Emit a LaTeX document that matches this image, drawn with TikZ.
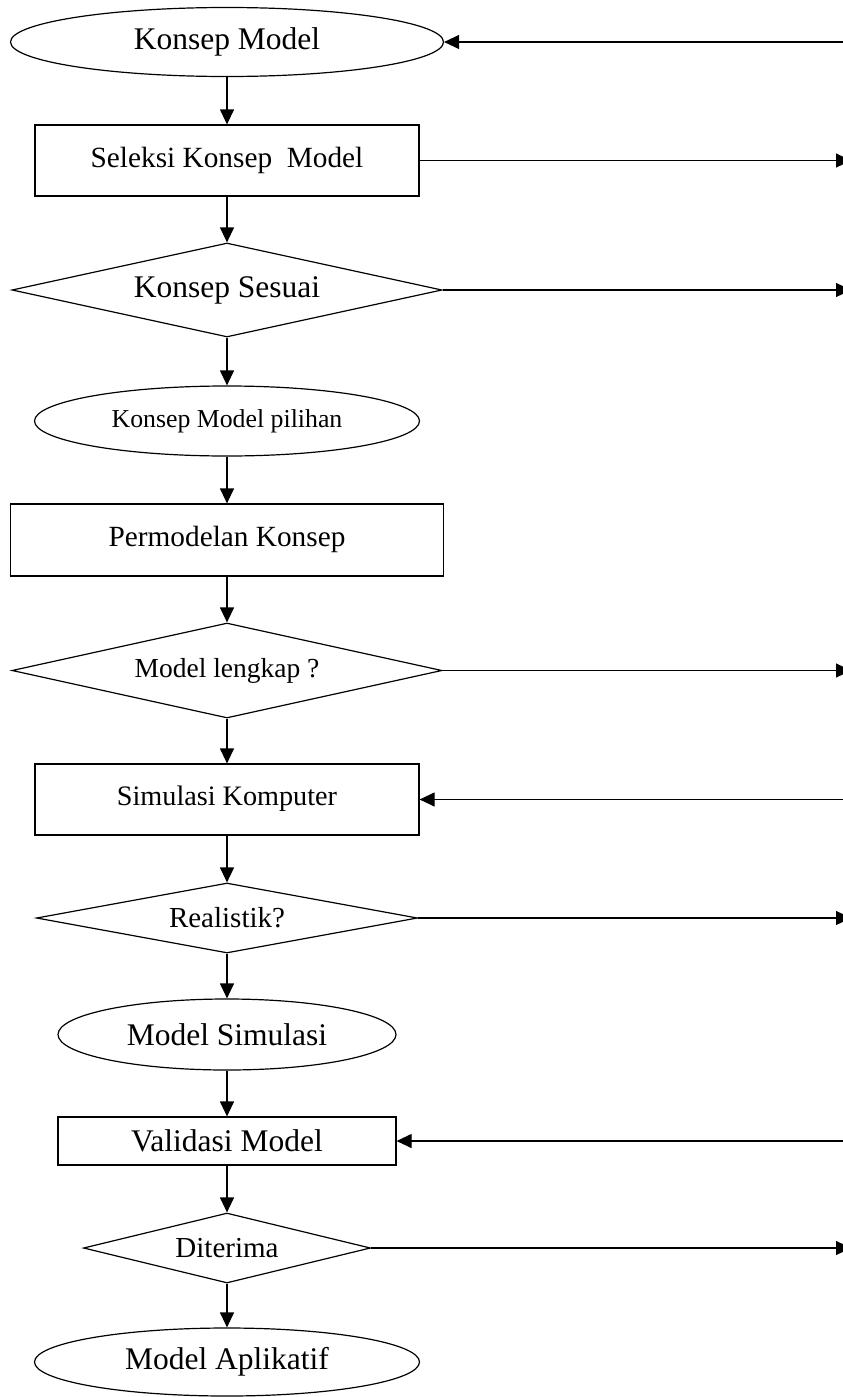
\documentclass[tikz,border=0pt]{standalone}
\usepackage{fontspec}
\setmainfont{Liberation Serif}
\usetikzlibrary{shapes.geometric,arrows.meta}

\tikzset{
  proses/.style={draw,rectangle,inner sep=0pt},
  keputusan/.style={draw,diamond,inner sep=0pt},
  terminal/.style={draw,ellipse,inner sep=0pt},
  besar/.style={font=\fontsize{31.5}{36}\selectfont},
  sedang/.style={font=\fontsize{29.3}{34}\selectfont},
}

\begin{document}
\begin{tikzpicture}[x=1pt,y=-1pt,>={Triangle[length=15pt,width=14pt]},line width=1.2pt]
        \clip (0,0) rectangle (843,1397); % batas gambar
        \coordinate (tepi) at (851,0); % tepi kanan

        \node[terminal,besar,minimum width=433,minimum height=69] (k1) at (227,42) {Konsep Model};
        \node[proses,sedang,minimum width=384,minimum height=71] (s1) at (227,160.5) {\raisebox{7pt}{Seleksi Konsep\ \ Model}};
        \node[keputusan,besar,aspect=4.6,minimum width=430,minimum height=94] (d1) at (227,290) {Konsep Sesuai};
        \node[terminal,font=\fontsize{25.8}{30}\selectfont,minimum width=385,minimum height=70] (k2) at (227,421) {Konsep Model pilihan};
        \node[proses,sedang,minimum width=433,minimum height=72] (p1) at (227,540) {\raisebox{7pt}{Permodelan Konsep}};
        \node[keputusan,font=\fontsize{27.5}{32}\selectfont,aspect=4.5,minimum width=430,minimum height=95] (d2) at (227,670.5) {Model lengkap ?};
        \node[proses,font=\fontsize{28.2}{32}\selectfont,minimum width=384,minimum height=71] (p2) at (227,799.5) {\raisebox{7pt}{Simulasi Komputer}};
        \node[keputusan,font=\fontsize{29}{34}\selectfont,aspect=5.4,minimum width=381,minimum height=70] (d3) at (227,918) {\raisebox{-4pt}{Realistik?}};
        \node[terminal,besar,minimum width=338,minimum height=71] (k3) at (227,1034.5) {Model Simulasi};
        \node[proses,besar,minimum width=338,minimum height=48] (v1) at (227,1141) {\raisebox{-6pt}{Validasi Model}};
        \node[keputusan,font=\fontsize{29}{34}\selectfont,aspect=4.1,minimum width=287,minimum height=70] (d4) at (227,1248) {\raisebox{-5pt}{Diterima}};
        \node[terminal,besar,minimum width=385,minimum height=68] (k4) at (227,1362) {Model Aplikatif};

        % alur utama
        \draw [->] (k1) -- (s1);
        \draw [->] (s1) -- (d1);
        \draw [->] (d1) -- (k2);
        \draw [->] (k2) -- (p1);
        \draw [->] (p1) -- (d2);
        \draw [->] (d2) -- (p2);
        \draw [->] (p2) -- (d3);
        \draw [->] (d3) -- (k3);
        \draw [->] (k3) -- (v1);
        \draw [->] (v1) -- (d4);
        \draw [->] (d4) -- (k4);

        % panah ke kanan
        \draw [->] (s1.east) -- (s1.east -| tepi);
        \draw [->] (d1.east) -- (d1.east -| tepi);
        \draw [->] (d2.east) -- (d2.east -| tepi);
        \draw [->] (d3.east) -- (d3.east -| tepi);
        \draw [->] (d4.east) -- (d4.east -| tepi);

        % panah masuk dari kanan
        \draw [->] (tepi |- k1.east) -- (k1.east);
        \draw [->] (tepi |- p2.east) -- (p2.east);
        \draw [->] (tepi |- v1.east) -- (v1.east);
    \end{tikzpicture}
\end{document}
